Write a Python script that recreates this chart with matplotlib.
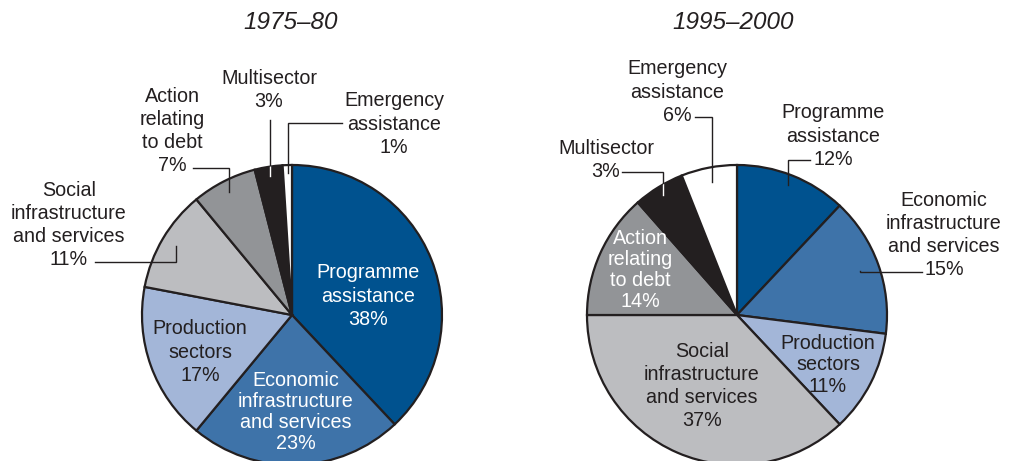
import numpy as np
import matplotlib.pyplot as plt

plt.rcParams['font.family'] = ['Liberation Sans', 'DejaVu Sans']

W, H = 1015, 461
DARK = "#231f20"

# sector order, clockwise from 12 o'clock
sectors = [
    "Programme\nassistance",
    "Economic\ninfrastructure\nand services",
    "Production\nsectors",
    "Social\ninfrastructure\nand services",
    "Action\nrelating\nto debt",
    "Multisector",
    "Emergency\nassistance",
]
colors = ["#00528f", "#3e73a9", "#a3b6d8", "#bcbdc0", "#929497", DARK, "#ffffff"]

periods = ["1975–80", "1995–2000"]

# wedge sizes as drawn (%)
shares_1975 = [38, 23, 17, 11, 7, 3, 1]
shares_2000 = [12, 15, 11, 37, 13.5, 5.5, 6]
# percentages as printed on the chart
printed_1975 = [38, 23, 17, 11, 7, 3, 1]
printed_2000 = [12, 15, 11, 37, 14, 3, 6]


def fy(y):
    # image pixel row -> axes y
    return H - y


# label layout per pie (image pixels):
# inside labels: (x, y, color, linespacing)
# outside labels: (x, y, anchor radius fraction, elbow y, end x)
layout_1975 = {
    0: ("in", 368, 296, "white", 1.27),
    1: ("in", 296, 412, "white", 1.12),
    2: ("in", 200, 352, DARK, 1.27),
    3: ("out", 69, 225, 0.90, 262, 95),
    4: ("out", 172, 131, 0.92, 168, 193),
    5: ("out", 269, 90, 0.94, 120, None),
    6: ("out", 394, 124, 0.95, 123, 342),
}
layout_2000 = {
    0: ("out", 833, 136, 0.93, 160, 810),
    1: ("out", 944, 235, 0.87, 272, 922),
    2: ("in", 828, 365, DARK, 1.15),
    3: ("in", 702, 386, DARK, 1.27),
    4: ("in", 640, 270, "white", 1.12),
    5: ("out", 606, 160, 0.94, 172, 622),
    6: ("out", 677, 92, 0.90, 117, 695),
}


def draw_pie(ax, shares, printed, layout, cx, cy, r, title, title_x):
    wedges, _ = ax.pie(
        shares,
        colors=colors,
        startangle=90,
        counterclock=False,
        center=(cx, fy(cy)),
        radius=r,
        wedgeprops=dict(edgecolor=DARK, linewidth=1.6),
    )
    ax.text(title_x, fy(23), title, ha="center", va="center",
            fontsize=17.5, style="italic", color=DARK)

    for i, wedge in enumerate(wedges):
        spec = layout[i]
        label = f"{sectors[i]}\n{printed[i]}%"
        if spec[0] == "in":
            _, x, y, col, ls = spec
            ax.text(x, fy(y), label, ha="center", va="center",
                    fontsize=14.2, color=col, linespacing=ls)
            continue

        _, x, y, rf, elbow_y, end_x = spec
        ax.text(x, fy(y), label, ha="center", va="center",
                fontsize=14.2, color=DARK, linespacing=1.27)
        mid = np.deg2rad((wedge.theta1 + wedge.theta2) / 2)
        ax_x = cx + rf * r * np.cos(mid)
        ax_y = fy(cy) + rf * r * np.sin(mid)
        xs = [ax_x, ax_x]
        ys = [ax_y, fy(elbow_y)]
        if end_x is not None:
            xs.append(end_x)
            ys.append(fy(elbow_y))
        ax.plot(xs, ys, color=DARK, linewidth=1.0, solid_joinstyle="miter")
        # leader shows white where it crosses the black wedge
        if colors[i] == DARK:
            line, = ax.plot(xs, ys, color="white", linewidth=1.0)
            line.set_clip_path(wedge)


fig = plt.figure(figsize=(W / 100, H / 100), dpi=100)
ax = fig.add_axes([0, 0, 1, 1])

draw_pie(ax, shares_1975, printed_1975, layout_1975, 292, 315, 150, periods[0], 291)
draw_pie(ax, shares_2000, printed_2000, layout_2000, 737, 315, 150, periods[1], 733)

ax.set_xlim(0, W)
ax.set_ylim(0, H)
ax.set_aspect("auto")
ax.axis("off")

fig.savefig("out.png", dpi=100, facecolor="white")
